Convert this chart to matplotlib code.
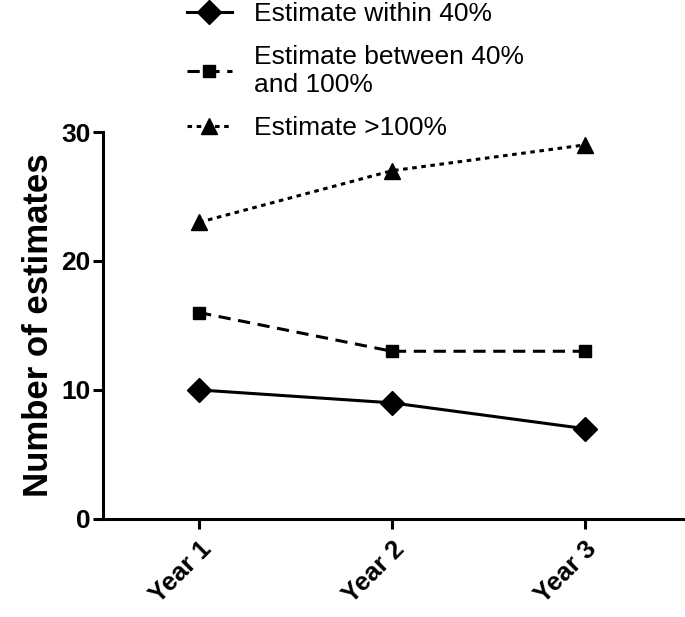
import matplotlib
matplotlib.use('Agg')
import matplotlib.pyplot as plt
from matplotlib.transforms import ScaledTranslation

years = ['Year 1', 'Year 2', 'Year 3']
within_40 = [10, 9, 7]
between_40_100 = [16, 13, 13]
over_100 = [23, 27, 29]

plt.rcParams['font.family'] = ['Liberation Sans', 'DejaVu Sans']


def main():
    fig = plt.figure(figsize=(6.85, 6.17), dpi=100)
    ax = fig.add_axes([0.150, 0.159, 0.85, 0.627])
    x = range(len(years))

    ax.plot(x, within_40, '-', marker='D', color='black', lw=2.2, ms=12,
            clip_on=False, label='Estimate within 40%')
    ax.plot(x, between_40_100, color='black', ls=(0, (4, 2.5)), marker='s', lw=2.2,
            ms=9, clip_on=False, label='Estimate between 40%\nand 100%')
    ax.plot(x, over_100, color='black', ls=(0, (1.5, 1.5)), marker='^', lw=2.2,
            ms=12, clip_on=False, label='Estimate >100%')

    ax.set_xlim(-0.5, 2.52)
    ax.set_ylim(0, 30)
    ax.set_yticks([0, 10, 20, 30])
    ax.set_xticks(list(x))
    ax.set_xticklabels(years, rotation=45, ha='right', rotation_mode='anchor',
                       fontsize=18.5, fontweight='bold')
    # nudge the slanted year labels a bit left
    shift = ScaledTranslation(-0.07, 0.0, fig.dpi_scale_trans)
    for lab in ax.get_xticklabels():
        lab.set_transform(lab.get_transform() + shift)
    for lab in ax.get_yticklabels():
        lab.set_fontsize(19)
        lab.set_fontweight('bold')
    ax.set_ylabel('Number of estimates', fontsize=25, fontweight='bold', labelpad=4)

    for side in ['top', 'right']:
        ax.spines[side].set_visible(False)
    for side in ['left', 'bottom']:
        ax.spines[side].set_linewidth(2.2)
    ax.tick_params(axis='y', width=2.2, length=7, pad=2)
    ax.tick_params(axis='x', width=2.2, length=7, pad=6)

    fig.legend(loc='upper left', bbox_to_anchor=(0.238, 1.035), frameon=False,
               fontsize=19, handlelength=1.7, handletextpad=0.85, labelspacing=0.72)

    fig.savefig('out.png', dpi=100)


if __name__ == '__main__':
    main()
